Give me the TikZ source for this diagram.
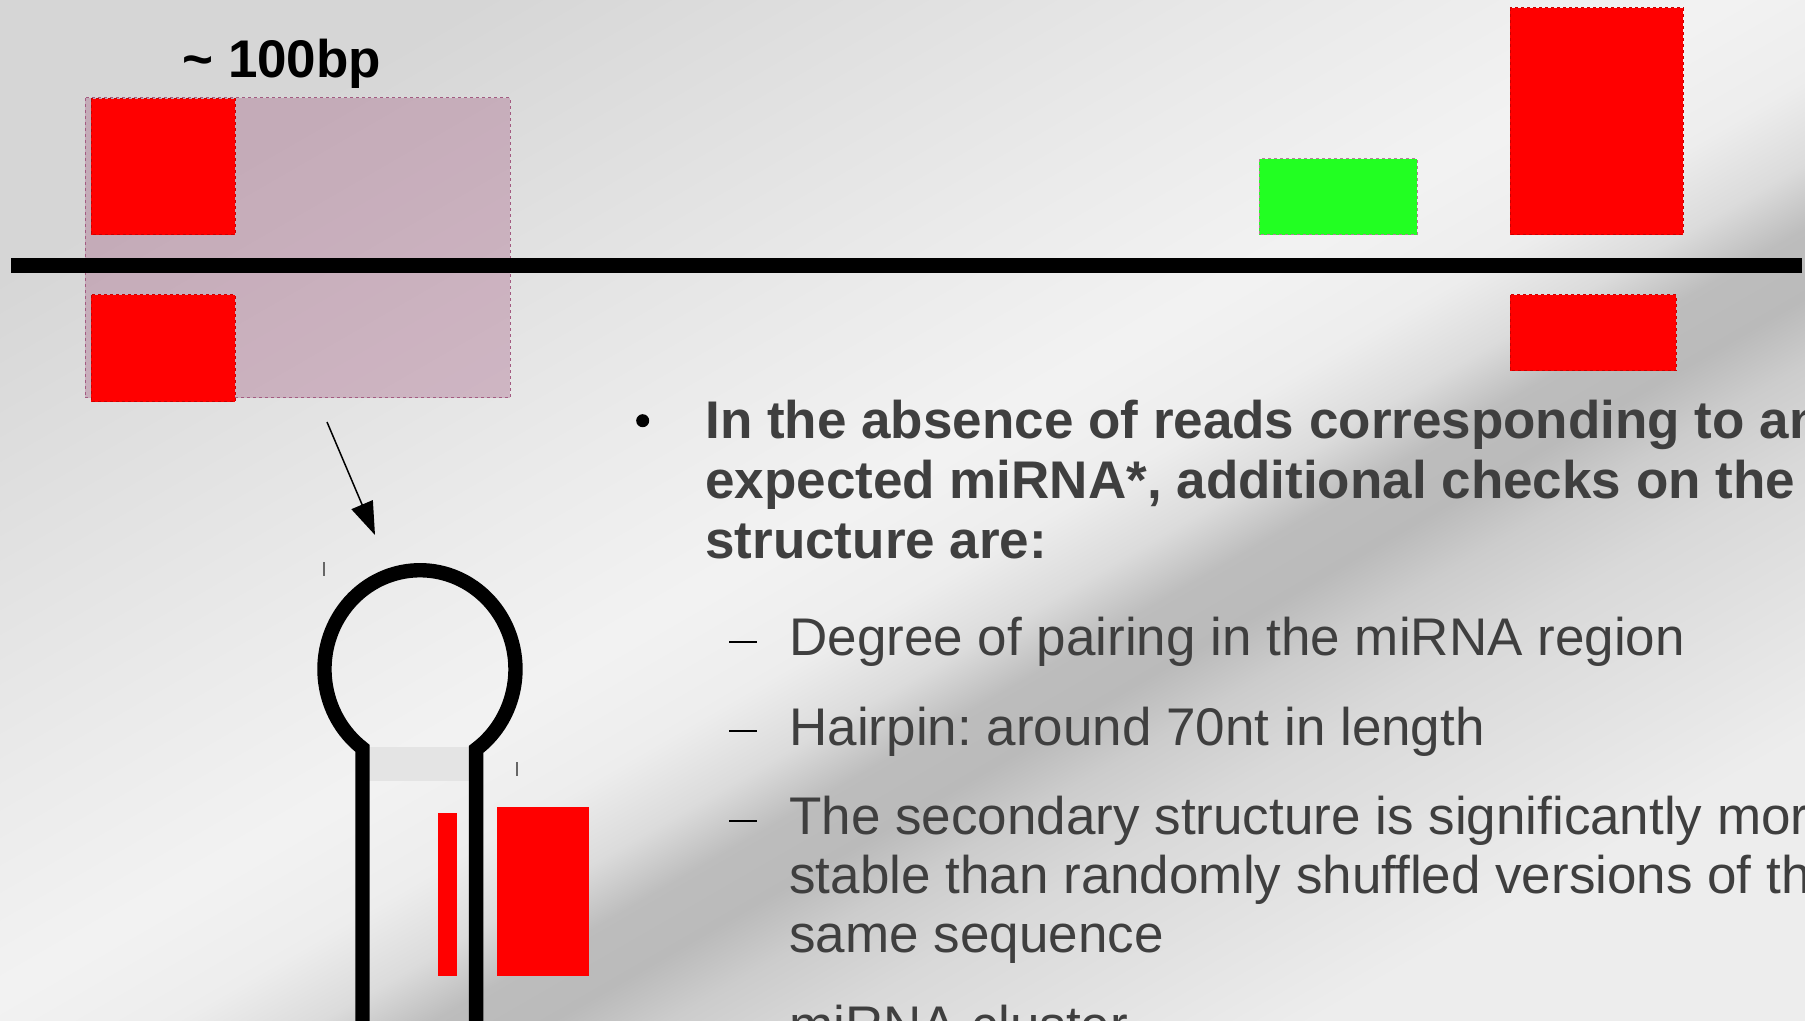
\documentclass[tikz,border=0pt]{standalone}
\usepackage{fontspec}
\setmainfont{Liberation Sans}
\usetikzlibrary{arrows.meta}
\frenchspacing

\definecolor{slidetext}{HTML}{3F3F3F}
\definecolor{windowpink}{HTML}{A35B81}
\definecolor{hitgreen}{HTML}{22FF22}
\definecolor{stemgrey}{HTML}{E4E4E4}

% silk backdrop: a linear ramp with one dark fold running up to the right
\pgfdeclarehorizontalshading{silk}{100bp}{%
  color(0bp)=(black!16); color(25bp)=(black!16); color(33.4bp)=(black!12);
  color(41.8bp)=(black!8); color(48.8bp)=(black!5); color(53bp)=(black!7);
  color(55.8bp)=(black!14); color(58bp)=(black!26); color(60.3bp)=(black!27);
  color(62.5bp)=(black!20); color(65.6bp)=(black!15); color(75bp)=(black!7);
  color(100bp)=(black!7)}

\begin{document}
\begin{tikzpicture}[x=0.5pt, y=-0.5pt, line join=miter,
    readbox/.style={fill=red, draw=red!80!black, line width=0.5pt, dash pattern=on 1.5pt off 1.5pt},
    starbox/.style={fill=hitgreen, draw=windowpink!80, line width=0.5pt, dash pattern=on 1.5pt off 1.5pt},
    cursor/.style={draw=black!60, line width=0.6pt},
    subdash/.style={draw=black, line width=0.8pt},
    leadtext/.style={anchor=base west, inner sep=0pt, text=slidetext, align=left,
      font=\fontsize{26.5}{30}\selectfont\bfseries},
    subtext/.style={leadtext, font=\fontsize{26.5}{29.5}\selectfont}]
  % the slide, measured in pixels from the top left corner
  \useasboundingbox (0,0) rectangle (1805,1021);
  \clip (0,0) rectangle (1805,1021);
  \shade[shading=silk, shading angle=-60] (0,0) rectangle (1805,1021);

  % window of about 100bp around the read stacks
  \draw[fill=windowpink, fill opacity=0.35, draw=windowpink, line width=0.5pt,
    dash pattern=on 1.5pt off 1.5pt] (85,98) rectangle (510,398);
  \node[anchor=base west, inner sep=0pt, font=\fontsize{26.5}{30}\selectfont\bfseries]
    (span) at (182,78) {\textasciitilde\ 100bp};

  % read stacks on both strands
  \draw[readbox] (91,99) rectangle (235,235);
  \draw[readbox] (91,295) rectangle (235,402);
  \draw[starbox] (1259,159) rectangle (1417,235);
  \draw[readbox] (1510,8) rectangle (1683,235);
  \draw[readbox] (1510,295) rectangle (1676,371);

  % the genome
  \draw[line width=7.5pt] (11,265.5) -- (1802,265.5);

  % folding the window into a hairpin
  \coordinate (window foot) at (327,422);
  \coordinate (loop head) at (375,535);
  \draw[line width=0.75pt, -{Triangle[length=16.5pt, width=11.5pt]}] (window foot) -- (loop head);

  % hairpin: loop on top of a long stem
  \fill[stemgrey] (369,747) rectangle (470,781);
  \draw[line width=7.2pt] (362.5,1030) -- (362.5,748.3) arc (127:414:95.5 and 99) -- ++(0,300);
  \fill[red] (438,813) rectangle (457,976);
  \fill[red] (497,807) rectangle (589,976);
  \draw[cursor] (324,562) -- (324,576);
  \draw[cursor] (517,762) -- (517,776);

  % bullet list; multi-line nodes sit on their last baseline
  \fill[black] (642.7,420.7) circle (6.5);
  \node[leadtext] (lead) at (705,559)
    {In the absence of reads corresponding to an\\expected miRNA*, additional checks on the\\structure are:};
  \foreach \y in {642,731,821}
    \draw[subdash] (729,\y) -- (757,\y);
  \node[subtext] (pairing) at (789,655) {Degree of pairing in the miRNA region};
  \node[subtext] (length) at (789,745) {Hairpin: around 70nt in length};
  \node[subtext] (stability) at (789,952)
    {The secondary structure is significantly mor\\stable than randomly shuffled versions of th\\same sequence};
  \node[subtext] (cluster) at (789,1043) {miRNA cluster};
\end{tikzpicture}
\end{document}
